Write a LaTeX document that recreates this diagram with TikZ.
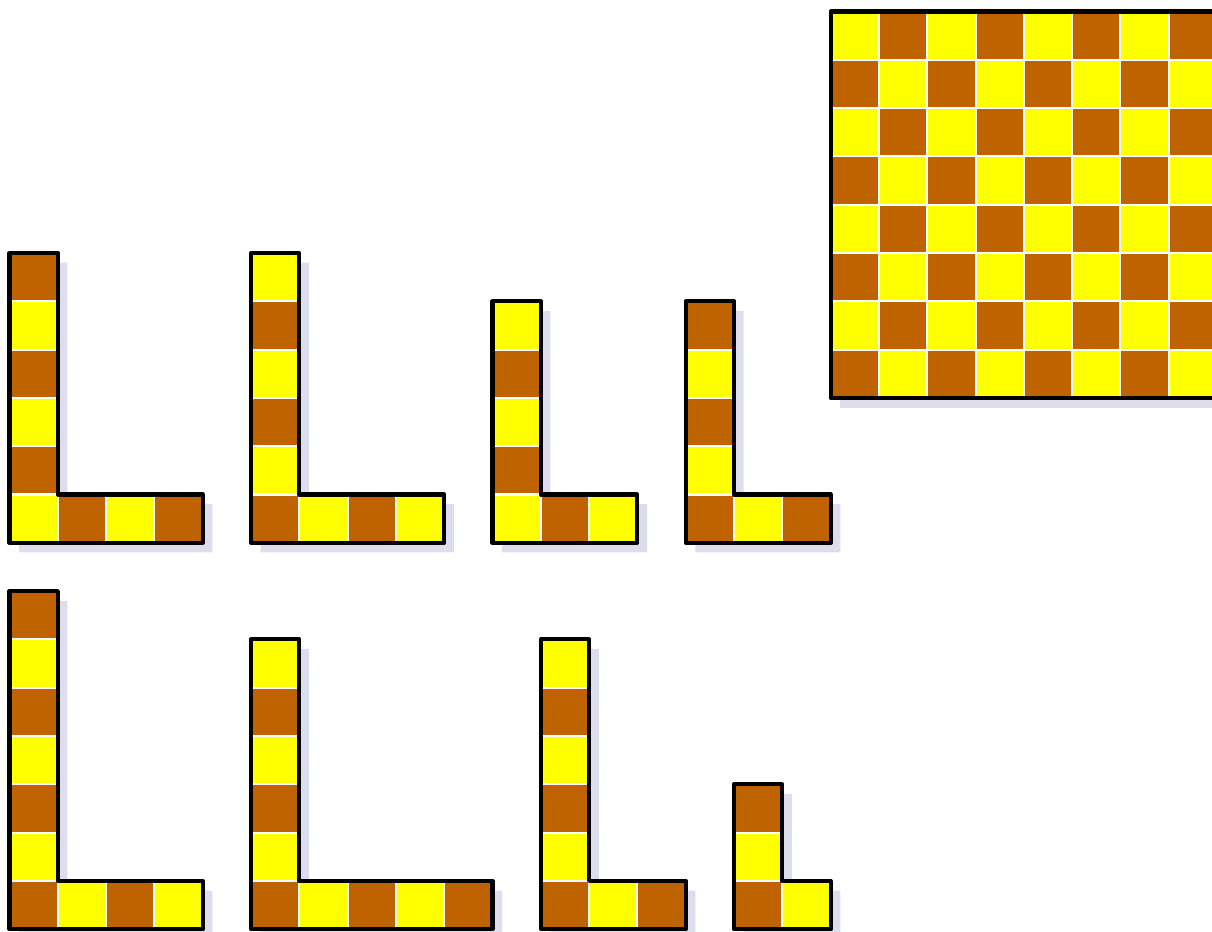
\documentclass[tikz,border=0pt]{standalone}
\definecolor{cyel}{RGB}{255,255,0}
\definecolor{cbrn}{RGB}{190,99,0}
\definecolor{cshad}{RGB}{221,221,237}
\tikzset{
  cell/.style={draw=white,line width=1.2pt},
  outline/.style={draw=black,line width=2.4pt,line join=round},
  shadowfill/.style={fill=cshad}
}
% #1 column, #2 top row, #3 height, #4 width, #5 top colour, #6 other colour
\newcommand\Lsh[6]{%
  \pgfmathtruncatemacro\hm{#3-1}%
  \pgfmathtruncatemacro\wm{#4-1}%
  \fill[shadowfill,shift={(0.2,0.2)}] (#1,#2) -- ++(1,0) -- ++(0,\hm) -- ++(\wm,0) -- ++(0,1) -- ++(-#4,0) -- cycle;
  \foreach \i in {0,...,\hm}{%
    \ifodd\i\def\cc{#6}\else\def\cc{#5}\fi
    \filldraw[cell,fill=\cc] (#1,#2+\i) rectangle ++(1,1);
  }%
  \foreach \j in {1,...,\wm}{%
    \pgfmathtruncatemacro\k{\hm+\j}%
    \ifodd\k\def\cc{#6}\else\def\cc{#5}\fi
    \filldraw[cell,fill=\cc] (#1+\j,#2+\hm) rectangle ++(1,1);
  }%
  \draw[outline] (#1,#2) -- ++(1,0) -- ++(0,\hm) -- ++(\wm,0) -- ++(0,1) -- ++(-#4,0) -- cycle;
}
\begin{document}
\begin{tikzpicture}[x=1cm,y=-1cm]
\useasboundingbox (-0.1967,-0.238) rectangle (24.896,19.037);
% checkerboard
\fill[shadowfill] (17.2,0.2) rectangle (25.2,8.2);
\foreach \r in {0,...,7}{
  \foreach \c in {0,...,7}{
    \pgfmathtruncatemacro\p{\r+\c}
    \ifodd\p\def\cc{cbrn}\else\def\cc{cyel}\fi
    \filldraw[cell,fill=\cc] (17+\c,\r) rectangle ++(1,1);
  }
}
\draw[outline] (17,0) rectangle (25,8);
% L shapes, first row
\Lsh{0}{5}{6}{4}{cbrn}{cyel}
\Lsh{5}{5}{6}{4}{cyel}{cbrn}
\Lsh{10}{6}{5}{3}{cyel}{cbrn}
\Lsh{14}{6}{5}{3}{cbrn}{cyel}
% second row
\Lsh{0}{12}{7}{4}{cbrn}{cyel}
\Lsh{5}{13}{6}{5}{cyel}{cbrn}
\Lsh{11}{13}{6}{3}{cyel}{cbrn}
\Lsh{15}{16}{3}{2}{cbrn}{cyel}
\end{tikzpicture}
\end{document}
